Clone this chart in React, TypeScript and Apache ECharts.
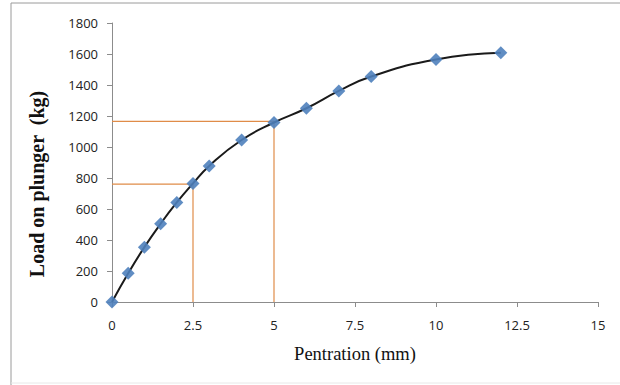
import React, { useEffect, useRef } from "react";
import * as echarts from "echarts";

const penetration = [0, 0.5, 1, 1.5, 2, 2.5, 3, 4, 5, 6, 7, 8, 10, 12];
const load = [0, 185, 354, 505, 642, 765, 878, 1045, 1158, 1250, 1362, 1455, 1565, 1608];
const guide25 = [[0, 760], [2.5, 760], [2.5, 0]];
const guide5 = [[0, 1165], [5, 1165], [5, 0]];
const xTicks = { min: 0, max: 15, interval: 2.5 };
const yTicks = { min: 0, max: 1800, interval: 200 };
const xTitle = "Pentration (mm)";
const yTitle = "Load on plunger  (kg)";

export default function App() {
  const ref = useRef<HTMLDivElement>(null);
  useEffect(() => {
    const chart = echarts.init(ref.current!, null, { renderer: "svg" });
    const pts = penetration.map((x, i) => [x, load[i]]);
    chart.setOption({
      animation: false,
      backgroundColor: "#fff",
      grid: { left: 112, right: 22, top: 23, bottom: 83 },
      xAxis: {
        type: "value",
        min: xTicks.min,
        max: xTicks.max,
        interval: xTicks.interval,
        splitLine: { show: false },
        axisLine: { lineStyle: { color: "#8c8c8c", width: 1 } },
        axisTick: { show: true, length: 5, lineStyle: { color: "#8c8c8c" } },
        axisLabel: {
          color: "#222",
          fontFamily: "Open Sans",
          fontSize: 13,
          margin: 16,
          formatter: (v: number) => String(v),
        },
        name: xTitle,
        nameLocation: "middle",
        nameGap: 42,
        nameTextStyle: { color: "#111", fontFamily: "Liberation Serif", fontSize: 18.5 },
      },
      yAxis: {
        type: "value",
        min: yTicks.min,
        max: yTicks.max,
        interval: yTicks.interval,
        splitLine: { show: false },
        axisLine: { show: true, lineStyle: { color: "#8c8c8c", width: 1 } },
        axisTick: { show: true, length: 5, lineStyle: { color: "#8c8c8c" } },
        axisLabel: {
          color: "#222",
          fontFamily: "Open Sans",
          fontSize: 13,
          margin: 14,
          formatter: (v: number) => String(v),
        },
      },
      graphic: [
        { type: "line", shape: { x1: 11, y1: 3, x2: 620, y2: 3 }, style: { stroke: "#9a9a9a", lineWidth: 1 } },
        { type: "line", shape: { x1: 11, y1: 3, x2: 11, y2: 385 }, style: { stroke: "#9a9a9a", lineWidth: 1 } },
        { type: "line", shape: { x1: 11, y1: 383, x2: 620, y2: 383 }, style: { stroke: "#e8e8e8", lineWidth: 1 } },
        {
          type: "text",
          x: 37,
          y: 184,
          rotation: Math.PI / 2,
          style: {
            text: yTitle,
            fill: "#111",
            font: "bold 20px 'Liberation Serif'",
            textAlign: "center",
            textVerticalAlign: "middle",
          },
        },
      ],
      series: [
        {
          type: "line",
          data: guide25,
          symbol: "none",
          lineStyle: { color: "#e08c48", width: 1.2 },
          z: 1,
        },
        {
          type: "line",
          data: guide5,
          symbol: "none",
          lineStyle: { color: "#e08c48", width: 1.2 },
          z: 1,
        },
        {
          type: "line",
          data: pts,
          smooth: 0.5,
          symbol: "diamond",
          symbolSize: 13,
          itemStyle: { color: "#4f81bd", opacity: 0.9 },
          lineStyle: { color: "#1a1a1a", width: 2 },
          z: 3,
        },
      ],
    });
    return () => chart.dispose();
  }, []);
  return (
    <div
      ref={ref}
      style={{ position: "fixed", left: 0, top: 0, width: 620, height: 385 }}
    />
  );
}
